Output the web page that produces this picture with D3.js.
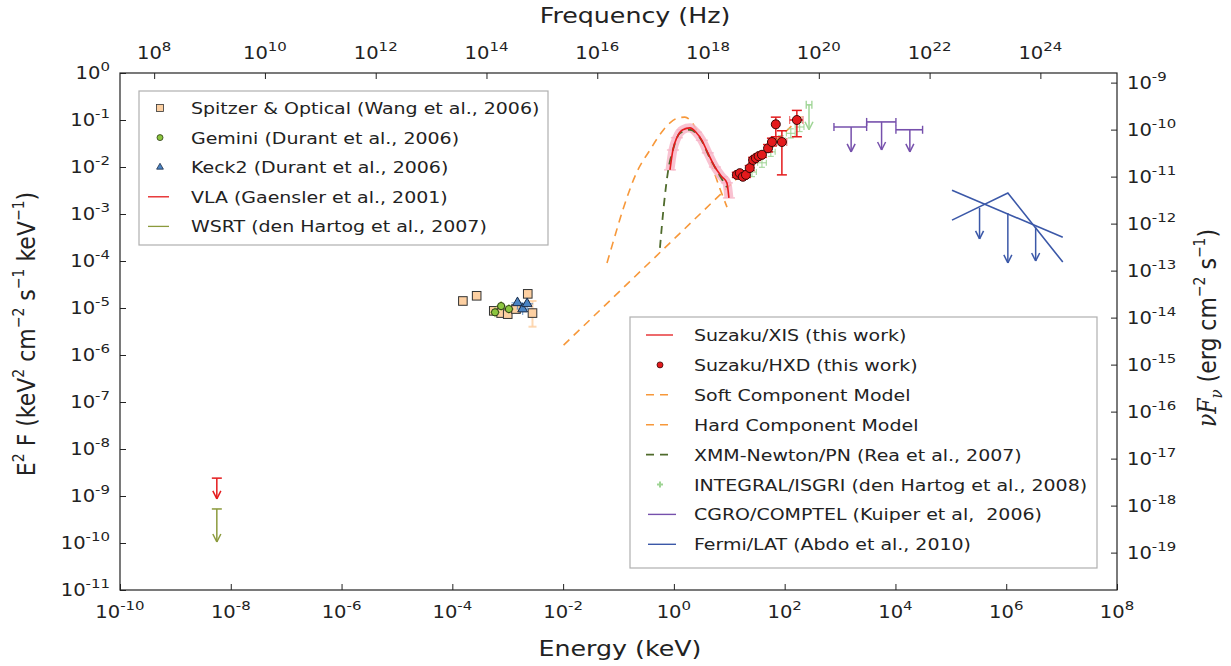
<!DOCTYPE html>
<html>
<head>
<meta charset="utf-8">
<script src="https://cdn.jsdelivr.net/npm/d3@7"></script>
<style>
  body { margin: 0; background: #fff; }
  text { font-family: "DejaVu Sans", sans-serif; fill: #222; white-space: pre; }
</style>
</head>
<body>
<svg id="chart"></svg>
<script>
let width = 1231, height = 666;
let KEV_TO_ERG = 1.602e-9;
let KEV_TO_HZ = 2.418e17;
let STRETCH = 1.15; // text in the source picture is a bit wide

// ---- data (energy in keV, E^2F in keV^2 cm^-2 s^-1 keV^-1) ----
let spitzerE = [1.55e-4, 2.75e-4, 5.6e-4, 7.6e-4, 1.0e-3, 1.41e-3, 2.3e-3, 2.8e-3];
let spitzerF = [1.41e-5, 1.82e-5, 8.7e-6, 7.8e-6, 7.4e-6, 9.5e-6, 2.0e-5, 7.8e-6];
let spitzerLo = [1.3e-5, 1.7e-5, 8.0e-6, 7.2e-6, 6.8e-6, 8.8e-6, 1.85e-5, 4.0e-6];
let spitzerHi = [1.5e-5, 1.95e-5, 9.4e-6, 8.4e-6, 8.0e-6, 1.02e-5, 2.15e-5, 1.41e-5];

let geminiE = [5.9e-4, 7.6e-4, 1.05e-3];
let geminiF = [8.1e-6, 1.1e-5, 9.5e-6];

let keckE = [1.5e-3, 1.86e-3, 2.24e-3];
let keckF = [1.29e-5, 9.5e-6, 1.23e-5];

let vlaE = [5.6e-9], vlaF = [2.4e-9], vlaTip = [8.7e-10];
let wsrtE = [5.6e-9], wsrtF = [5.3e-10], wsrtTip = [1.05e-10];

let xisE = [0.85, 0.96, 1.13, 1.45, 1.95, 2.5, 3.2, 4.1, 5.5, 7.35, 9.05, 9.85];
let xisF = [8.7e-3, 2.3e-2, 4.2e-2, 6.2e-2, 6.8e-2, 5.5e-2, 3.7e-2, 2.0e-2, 1.0e-2, 6.2e-3, 4.6e-3, 2.2e-3];

let hxdE = [13.7, 15.5, 17.6, 20.0, 23.4, 26.9, 30.2, 33.9, 38.9, 50.1, 58.9, 69.2, 89.1, 166];
let hxdF = [6.8e-3, 7.4e-3, 6.2e-3, 6.8e-3, 9.5e-3, 1.41e-2, 1.55e-2, 1.7e-2, 1.82e-2, 2.5e-2, 3.4e-2, 8.1e-2, 3.4e-2, 0.10];
let hxdFlo = [6.0e-3, 6.6e-3, 5.5e-3, 6.0e-3, 8.4e-3, 1.25e-2, 1.38e-2, 1.5e-2, 1.6e-2, 2.1e-2, 2.8e-2, 4.4e-2, 6.8e-3, 4.4e-2];
let hxdFhi = [7.7e-3, 8.3e-3, 7.0e-3, 7.7e-3, 1.07e-2, 1.6e-2, 1.75e-2, 1.92e-2, 2.06e-2, 3.0e-2, 4.1e-2, 0.115, 5.9e-2, 0.16];
let hxdElo = [12.5, 14.2, 16.1, 18.3, 21.4, 24.6, 27.6, 31.0, 35.5, 45.0, 53.0, 62.0, 72, 123];
let hxdEhi = [15.0, 17.0, 19.3, 21.9, 25.6, 29.4, 33.0, 37.0, 42.5, 56.0, 65.0, 77.0, 109, 214];

let softE = [0.062, 0.079, 0.12, 0.21, 0.37, 0.60, 0.85, 1.17, 1.58, 1.95, 2.95, 4.47, 6.76, 9.1];
let softF = [9.1e-5, 2.4e-4, 1.23e-3, 7.4e-3, 2.3e-2, 5.5e-2, 8.7e-2, 0.11, 0.115, 0.10, 4.4e-2, 1.4e-2, 3.5e-3, 1.4e-3];

let hardE = [0.0102, 234];
let hardF = [1.62e-6, 0.141];

let xmmE = [0.56, 0.66, 0.78, 0.96, 1.28, 1.95, 2.95, 4.47, 6.76, 9.05];
let xmmF = [1.9e-4, 1.55e-3, 7.8e-3, 2.3e-2, 5.2e-2, 6.2e-2, 4.2e-2, 1.55e-2, 6.5e-3, 3.7e-3];

let integralE = [25.7, 38.9, 56.2, 85.1, 129, 186];
let integralF = [7.8e-3, 1.23e-2, 2.1e-2, 3.7e-2, 5.2e-2, 7.1e-2];
let integralLimE = [275], integralLimElo = [245], integralLimEhi = [310];
let integralLimF = [0.21], integralLimTip = [0.062];

let comptelE = [1585, 5620, 18200];
let comptelElo = [776, 3020, 10200];
let comptelEhi = [3020, 10200, 30900];
let comptelF = [0.071, 0.091, 0.062];
let comptelTip = [0.021, 0.023, 0.021];

let fermiLine1E = [1.05e5, 1.05e7], fermiLine1F = [3.2e-3, 3.2e-4];
let fermiLine2E = [1.05e5, 1.07e6, 1.05e7], fermiLine2F = [7.4e-4, 2.8e-3, 9.5e-5];
let fermiLimE = [3.3e5, 1.07e6, 3.4e6];
let fermiLimF = [1.35e-3, 1.05e-3, 5.2e-4];
let fermiTip = [2.95e-4, 9.1e-5, 1.0e-4];

let xTickExp = [-10, -8, -6, -4, -2, 0, 2, 4, 6, 8];
let yTickExp = [0, -1, -2, -3, -4, -5, -6, -7, -8, -9, -10, -11];
let topTickExp = [8, 10, 12, 14, 16, 18, 20, 22, 24];
let rightTickExp = [-9, -10, -11, -12, -13, -14, -15, -16, -17, -18, -19];

let legend1 = ["Spitzer & Optical (Wang et al., 2006)", "Gemini (Durant et al., 2006)",
  "Keck2 (Durant et al., 2006)", "VLA (Gaensler et al., 2001)", "WSRT (den Hartog et al., 2007)"];
let legend2 = ["Suzaku/XIS (this work)", "Suzaku/HXD (this work)", "Soft Component Model",
  "Hard Component Model", "XMM-Newton/PN (Rea et al., 2007)", "INTEGRAL/ISGRI (den Hartog et al., 2008)",
  "CGRO/COMPTEL (Kuiper et al,  2006)", "Fermi/LAT (Abdo et al., 2010)"];

let col = {
  red: "#e41a1c", peach: "#fdd0a2", green: "#8cc63f", blue: "#4a84c4",
  olive: "#8b9a3c", orange: "#f7983a", xmm: "#4f6b2c", lgreen: "#9ed494",
  purple: "#7650ac", fermi: "#3b58a8", pink: "#f7b3c5"
};

// ---- scales ----
let x = d3.scaleLog().domain([1e-10, 1e8]).range([120, 1117]);
let y = d3.scaleLog().domain([1e-11, 1]).range([590, 73]);
let xTop = d3.scaleLog().domain([1e-10 * KEV_TO_HZ, 1e8 * KEV_TO_HZ]).range([120, 1117]);
let yRight = d3.scaleLog().domain([1e-11 * KEV_TO_ERG, KEV_TO_ERG]).range([590, 73]);

let svg = d3.select("#chart").attr("width", width).attr("height", height);

// text placed at (px,py), stretched horizontally like the source
const stext = (parent, px, py, anchor, size) => parent.append("g")
  .attr("transform", `translate(${px},${py}) scale(${STRETCH},1)`)
  .append("text").attr("text-anchor", anchor).attr("font-size", size);

const pow = (sel, e) => {
  sel.append("tspan").text("10");
  sel.append("tspan").attr("dy", -8).attr("font-size", 13).text(e);
};

// ---- axes (inward ticks, labels drawn by hand for superscripts) ----
svg.append("g").attr("transform", "translate(0,590)")
  .call(d3.axisBottom(x).tickValues(xTickExp.map(e => Math.pow(10, e))).tickSize(-6).tickSizeOuter(0).tickFormat(""));
svg.append("g").attr("transform", "translate(0,73)")
  .call(d3.axisTop(xTop).tickValues(topTickExp.map(e => Math.pow(10, e))).tickSize(-6).tickSizeOuter(0).tickFormat(""));
svg.append("g").attr("transform", "translate(120,0)")
  .call(d3.axisLeft(y).tickValues(yTickExp.map(e => Math.pow(10, e))).tickSize(-6).tickSizeOuter(0).tickFormat(""));
svg.append("g").attr("transform", "translate(1117,0)")
  .call(d3.axisRight(yRight).tickValues(rightTickExp.map(e => Math.pow(10, e))).tickSize(-6).tickSizeOuter(0).tickFormat(""));
svg.selectAll(".domain").remove();
svg.selectAll(".tick line").attr("stroke", "#222");

svg.append("rect").attr("x", 120).attr("y", 73).attr("width", 997).attr("height", 517)
  .attr("fill", "none").attr("stroke", "#222").attr("stroke-width", 1.2);

xTickExp.forEach(e => stext(svg, x(Math.pow(10, e)), 618, "middle", 17).call(pow, e));
topTickExp.forEach(e => stext(svg, xTop(Math.pow(10, e)), 59, "middle", 17).call(pow, e));
yTickExp.forEach(e => stext(svg, 110, y(Math.pow(10, e)) + 6, "end", 17).call(pow, e));
rightTickExp.forEach(e => stext(svg, 1127, yRight(Math.pow(10, e)) + 6, "start", 17).call(pow, e));

// axis titles
stext(svg, 620, 656, "middle", 22).text("Energy (keV)");
stext(svg, 635, 23, "middle", 22).text("Frequency (Hz)");

let yl = svg.append("text").attr("transform", `translate(35,334) rotate(-90) scale(1,${STRETCH})`)
  .attr("text-anchor", "middle").attr("font-size", 22);
[["E", 0], ["2", 1], [" F (keV", 0], ["2", 1], [" cm", 0], ["\u22122", 1], [" s", 0], ["\u22121", 1], [" keV", 0], ["\u22121", 1], [")", 0]]
  .forEach(([t, s], i, arr) => {
    let prevSup = i > 0 && arr[i - 1][1];
    yl.append("tspan").attr("font-size", s ? 14 : 22)
      .attr("dy", s ? -10 : (prevSup ? 10 : 0)).text(t);
  });

let yr = svg.append("text").attr("transform", `translate(1216,328) rotate(-90) scale(1,${STRETCH})`)
  .attr("text-anchor", "middle").attr("font-size", 22);
yr.append("tspan").attr("font-family", "DejaVu Serif").attr("font-style", "italic").text("\u03bdF");
yr.append("tspan").attr("font-family", "DejaVu Serif").attr("font-style", "italic")
  .attr("font-size", 15).attr("dy", 5).text("\u03bd");
yr.append("tspan").attr("dy", -5).text(" (erg cm");
yr.append("tspan").attr("font-size", 14).attr("dy", -10).text("\u22122");
yr.append("tspan").attr("dy", 10).text(" s");
yr.append("tspan").attr("font-size", 14).attr("dy", -10).text("\u22121");
yr.append("tspan").attr("dy", 10).text(")");

// ---- helpers ----
let plot = svg.append("g");
const line = d3.line().x(d => x(d[0])).y(d => y(d[1]));
const smooth = d3.line().x(d => x(d[0])).y(d => y(d[1])).curve(d3.curveMonotoneX);
const zip = (a, b) => a.map((v, i) => [v, b[i]]);

const seg = (g, x1, y1, x2, y2, color, w, op) => g.append("line")
  .attr("x1", x1).attr("y1", y1).attr("x2", x2).attr("y2", y2)
  .attr("stroke", color).attr("stroke-width", w || 1.3).attr("opacity", op == null ? 1 : op);

const upperLimit = (g, e, f, tip, color, cap) => {
  let px = x(e), py = y(f), pt = y(tip);
  seg(g, px, py, px, pt, color, 1.5);
  seg(g, px - 4, pt - 8, px, pt, color, 1.5);
  seg(g, px + 4, pt - 8, px, pt, color, 1.5);
  if (cap) seg(g, px - cap, py, px + cap, py, color, 1.5);
};

// ---- hard and soft model ----
plot.append("path").attr("d", line(zip(hardE, hardF))).attr("fill", "none")
  .attr("stroke", col.orange).attr("stroke-width", 1.6).attr("stroke-dasharray", "8,6");
plot.append("path").attr("d", smooth(zip(softE, softF))).attr("fill", "none")
  .attr("stroke", col.orange).attr("stroke-width", 1.6).attr("stroke-dasharray", "8,6");

// XIS error band + line
plot.append("path").attr("d", smooth(zip(xisE, xisF))).attr("fill", "none")
  .attr("stroke", col.pink).attr("stroke-width", 9).attr("opacity", 0.8);
xisE.forEach((e, i) => seg(plot, x(e) - 6, y(xisF[i]), x(e) + 6, y(xisF[i]), col.pink, 1.5, 0.8));

// XMM
plot.append("path").attr("d", smooth(zip(xmmE, xmmF))).attr("fill", "none")
  .attr("stroke", col.xmm).attr("stroke-width", 1.8).attr("stroke-dasharray", "8,6");

plot.append("path").attr("d", smooth(zip(xisE, xisF))).attr("fill", "none")
  .attr("stroke", col.red).attr("stroke-width", 1.6);

// INTEGRAL
integralE.forEach((e, i) => {
  let px = x(e), py = y(integralF[i]);
  let x0 = x(e / 1.2), x1 = x(e * 1.2), y0 = y(integralF[i] / 1.25), y1 = y(integralF[i] * 1.25);
  seg(plot, x0, py, x1, py, col.lgreen, 1.2, 0.85);
  seg(plot, px, y0, px, y1, col.lgreen, 1.2, 0.85);
  seg(plot, x0, py - 3, x0, py + 3, col.lgreen, 1.2, 0.85);
  seg(plot, x1, py - 3, x1, py + 3, col.lgreen, 1.2, 0.85);
  seg(plot, px - 3, y0, px + 3, y0, col.lgreen, 1.2, 0.85);
  seg(plot, px - 3, y1, px + 3, y1, col.lgreen, 1.2, 0.85);
});
integralLimE.forEach((e, i) => {
  let py = y(integralLimF[i]);
  upperLimit(plot, e, integralLimF[i], integralLimTip[i], col.lgreen, 0);
  seg(plot, x(integralLimElo[i]), py, x(integralLimEhi[i]), py, col.lgreen, 1.5);
  seg(plot, x(integralLimElo[i]), py - 4, x(integralLimElo[i]), py + 4, col.lgreen, 1.3);
  seg(plot, x(integralLimEhi[i]), py - 4, x(integralLimEhi[i]), py + 4, col.lgreen, 1.3);
});

// HXD
hxdE.forEach((e, i) => {
  let px = x(e), py = y(hxdF[i]);
  seg(plot, x(hxdElo[i]), py, x(hxdEhi[i]), py, col.red, 1.5);
  seg(plot, px, y(hxdFlo[i]), px, y(hxdFhi[i]), col.red, 1.5);
  seg(plot, px - 5, y(hxdFlo[i]), px + 5, y(hxdFlo[i]), col.red, 1.5);
  seg(plot, px - 5, y(hxdFhi[i]), px + 5, y(hxdFhi[i]), col.red, 1.5);
  seg(plot, x(hxdElo[i]), py - 4, x(hxdElo[i]), py + 4, col.red, 1.2, 0.6);
  seg(plot, x(hxdEhi[i]), py - 4, x(hxdEhi[i]), py + 4, col.red, 1.2, 0.6);
});
plot.selectAll(".hxd").data(zip(hxdE, hxdF)).enter().append("circle")
  .attr("cx", d => x(d[0])).attr("cy", d => y(d[1])).attr("r", 4.5)
  .attr("fill", col.red).attr("stroke", "#3a0a0a").attr("stroke-width", 1);

// COMPTEL
comptelE.forEach((e, i) => {
  let py = y(comptelF[i]);
  seg(plot, x(comptelElo[i]), py, x(comptelEhi[i]), py, col.purple, 1.6);
  seg(plot, x(comptelElo[i]), py - 4, x(comptelElo[i]), py + 4, col.purple, 1.4);
  seg(plot, x(comptelEhi[i]), py - 4, x(comptelEhi[i]), py + 4, col.purple, 1.4);
  upperLimit(plot, e, comptelF[i], comptelTip[i], col.purple, 0);
});

// Fermi
[zip(fermiLine1E, fermiLine1F), zip(fermiLine2E, fermiLine2F)].forEach(pts =>
  plot.append("path").attr("d", line(pts)).attr("fill", "none")
    .attr("stroke", col.fermi).attr("stroke-width", 1.6));
fermiLimE.forEach((e, i) => upperLimit(plot, e, fermiLimF[i], fermiTip[i], col.fermi, 0));

// radio limits
vlaE.forEach((e, i) => upperLimit(plot, e, vlaF[i], vlaTip[i], col.red, 5));
wsrtE.forEach((e, i) => upperLimit(plot, e, wsrtF[i], wsrtTip[i], col.olive, 5));

// optical / IR
spitzerE.forEach((e, i) => {
  let px = x(e);
  seg(plot, px, y(spitzerLo[i]), px, y(spitzerHi[i]), col.peach, 2, 0.8);
  seg(plot, px - 4, y(spitzerLo[i]), px + 4, y(spitzerLo[i]), col.peach, 2, 0.8);
  seg(plot, px - 4, y(spitzerHi[i]), px + 4, y(spitzerHi[i]), col.peach, 2, 0.8);
});
plot.selectAll(".sp").data(zip(spitzerE, spitzerF)).enter().append("rect")
  .attr("x", d => x(d[0]) - 4.3).attr("y", d => y(d[1]) - 4.3).attr("width", 8.6).attr("height", 8.6)
  .attr("fill", col.peach).attr("stroke", "#333").attr("stroke-width", 1);
geminiE.forEach((e, i) => {
  seg(plot, x(e) - 5, y(geminiF[i]), x(e) + 5, y(geminiF[i]), col.green, 1.2, 0.7);
  seg(plot, x(e), y(geminiF[i]) - 5, x(e), y(geminiF[i]) + 5, col.green, 1.2, 0.7);
});
plot.selectAll(".gm").data(zip(geminiE, geminiF)).enter().append("circle")
  .attr("cx", d => x(d[0])).attr("cy", d => y(d[1])).attr("r", 3.6)
  .attr("fill", col.green).attr("stroke", "#2a3a10").attr("stroke-width", 1);
keckE.forEach((e, i) => {
  seg(plot, x(e) - 6, y(keckF[i]), x(e) + 6, y(keckF[i]), col.blue, 1.2, 0.7);
  seg(plot, x(e), y(keckF[i]) - 6, x(e), y(keckF[i]) + 6, col.blue, 1.2, 0.7);
});
let tri = d3.symbol().type(d3.symbolTriangle);
plot.selectAll(".kk").data(zip(keckE, keckF)).enter().append("path")
  .attr("d", tri.size(42)())
  .attr("transform", d => `translate(${x(d[0])},${y(d[1])})`)
  .attr("fill", col.blue).attr("stroke", "#1b2b45").attr("stroke-width", 1);

// ---- legends ----
let lg1 = svg.append("g");
lg1.append("rect").attr("x", 139).attr("y", 91).attr("width", 409).attr("height", 154)
  .attr("fill", "#fff").attr("stroke", "#b0b0b0").attr("stroke-width", 1.2);
legend1.forEach((t, i) => {
  let ly = 108 + i * 29.6, lx = 160;
  if (i === 0) lg1.append("rect").attr("x", lx - 3.5).attr("y", ly - 3.5).attr("width", 7).attr("height", 7)
    .attr("fill", col.peach).attr("stroke", "#333").attr("stroke-width", 0.8);
  if (i === 1) lg1.append("circle").attr("cx", lx).attr("cy", ly).attr("r", 3)
    .attr("fill", col.green).attr("stroke", "#2a3a10").attr("stroke-width", 0.8);
  if (i === 2) lg1.append("path").attr("d", tri.size(20)()).attr("transform", `translate(${lx},${ly})`)
    .attr("fill", col.blue).attr("stroke", "#1b2b45").attr("stroke-width", 0.8);
  if (i === 3) seg(lg1, 148, ly, 169, ly, col.red, 1.3);
  if (i === 4) seg(lg1, 148, ly, 169, ly, col.olive, 1.3);
  stext(lg1, 191, ly + 6, "start", 16.5).text(t);
});

let lg2 = svg.append("g");
lg2.append("rect").attr("x", 630).attr("y", 317).attr("width", 467).attr("height", 251)
  .attr("fill", "#fff").attr("stroke", "#b0b0b0").attr("stroke-width", 1.2);
legend2.forEach((t, i) => {
  let ly = 335 + i * 29.9, lx = 660;
  if (i === 0) seg(lg2, 646, ly, 673, ly, col.red, 1.3);
  if (i === 1) lg2.append("circle").attr("cx", lx).attr("cy", ly).attr("r", 3)
    .attr("fill", col.red).attr("stroke", "#3a0a0a").attr("stroke-width", 0.8);
  if (i === 2 || i === 3) lg2.append("line").attr("x1", 646).attr("x2", 674).attr("y1", ly).attr("y2", ly)
    .attr("stroke", col.orange).attr("stroke-width", 1.6).attr("stroke-dasharray", "8,6");
  if (i === 4) lg2.append("line").attr("x1", 646).attr("x2", 674).attr("y1", ly).attr("y2", ly)
    .attr("stroke", col.xmm).attr("stroke-width", 1.6).attr("stroke-dasharray", "8,6");
  if (i === 5) {
    seg(lg2, lx - 3, ly, lx + 3, ly, col.lgreen, 2);
    seg(lg2, lx, ly - 3, lx, ly + 3, col.lgreen, 2);
  }
  if (i === 6) seg(lg2, 648, ly, 676, ly, col.purple, 1.4);
  if (i === 7) seg(lg2, 648, ly, 676, ly, col.fermi, 1.4);
  stext(lg2, 694, ly + 6, "start", 16.5).text(t);
});
</script>
</body>
</html>
